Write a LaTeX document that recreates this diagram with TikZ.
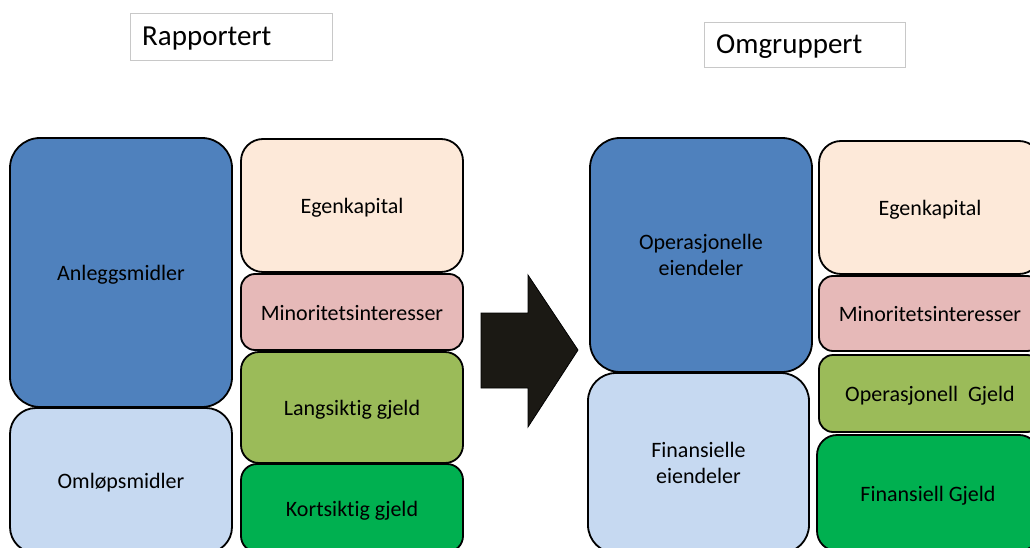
\documentclass[tikz,border=0pt]{standalone}
\usepackage{fontspec}
\setmainfont{Carlito}[Ligatures=NoCommon]
\definecolor{assetdark}{HTML}{4F81BD}
\definecolor{assetlight}{HTML}{C6D9F1}
\definecolor{equity}{HTML}{FDE9D9}
\definecolor{minority}{HTML}{E6B9B8}
\definecolor{longdebt}{HTML}{9BBB59}
\definecolor{shortdebt}{HTML}{00B050}
\definecolor{arrowfill}{HTML}{1B1914}
\definecolor{framegray}{HTML}{C8C8C8}
\tikzset{
  block/.style={draw=black, line width=1.8pt, align=center, inner sep=0pt,
    font=\fontsize{22}{26.5}\selectfont},
  oneline/.style={text height=21pt, text depth=5pt},
  heading/.style={anchor=west, inner sep=0pt, font=\fontsize{29}{32}\selectfont}
}
\begin{document}
\begin{tikzpicture}[x=1pt, y=-1pt]
\useasboundingbox (0,0) rectangle (1030,548);
\clip (0,0) rectangle (1030,548);
\fill[white] (0,0) rectangle (1030,548);

% headings
\draw[framegray, line width=0.9pt] (130,13) rectangle (332,60);
\node[heading] (rap) at (142,39) {Rapportert};
\draw[framegray, line width=0.9pt] (704,22) rectangle (905,67);
\node[heading] (omg) at (716,47) {Omgruppert};

% reported balance sheet
\node[block, oneline, fill=assetdark, rounded corners=30pt, minimum width=222pt, minimum height=269pt] (anl) at (121,272.5) {Anleggsmidler};
\node[block, oneline, fill=assetlight, rounded corners=26pt, minimum width=222pt, minimum height=145pt] (oml) at (121,480.5) {Omløpsmidler};
\node[block, oneline, fill=equity, rounded corners=22pt, minimum width=222pt, minimum height=133pt] (ekL) at (352,205.5) {Egenkapital};
\node[block, oneline, fill=minority, rounded corners=14pt, minimum width=222pt, minimum height=76pt] (minL) at (352,312) {Minoritetsinteresser};
\node[block, oneline, fill=longdebt, rounded corners=18pt, minimum width=222pt, minimum height=111pt] (lang) at (352,407.5) {Langsiktig gjeld};
\node[block, oneline, fill=shortdebt, rounded corners=16pt, minimum width=222pt, minimum height=88pt] (kort) at (352,508) {Kortsiktig gjeld};

% block arrow
\draw[line width=0.8pt, fill=arrowfill, draw=black] (481,313) -- (528,313) -- (528,275) -- (578,350) -- (528,427) -- (528,388) -- (481,388) -- cycle;

% regrouped balance sheet
\node[block, fill=assetdark, rounded corners=30pt, minimum width=222pt, minimum height=234pt] (opE) at (701,255) {Operasjonelle\\eiendeler};
\node[block, fill=assetlight, rounded corners=28pt, minimum width=221pt, minimum height=180pt] (finE) at (698.5,463) {Finansielle\\eiendeler};
\node[block, oneline, fill=equity, rounded corners=22pt, minimum width=222pt, minimum height=133pt] (ekR) at (930,207.5) {Egenkapital};
\node[block, oneline, fill=minority, rounded corners=14pt, minimum width=222pt, minimum height=75pt] (minR) at (930,313.5) {Minoritetsinteresser};
\node[block, oneline, fill=longdebt, rounded corners=14pt, minimum width=222pt, minimum height=77pt] (opG) at (930,393.5) {Operasjonell~ Gjeld};
\node[block, oneline, fill=shortdebt, rounded corners=20pt, minimum width=222pt, minimum height=116pt] (finG) at (928,493) {Finansiell Gjeld};
\end{tikzpicture}
\end{document}
